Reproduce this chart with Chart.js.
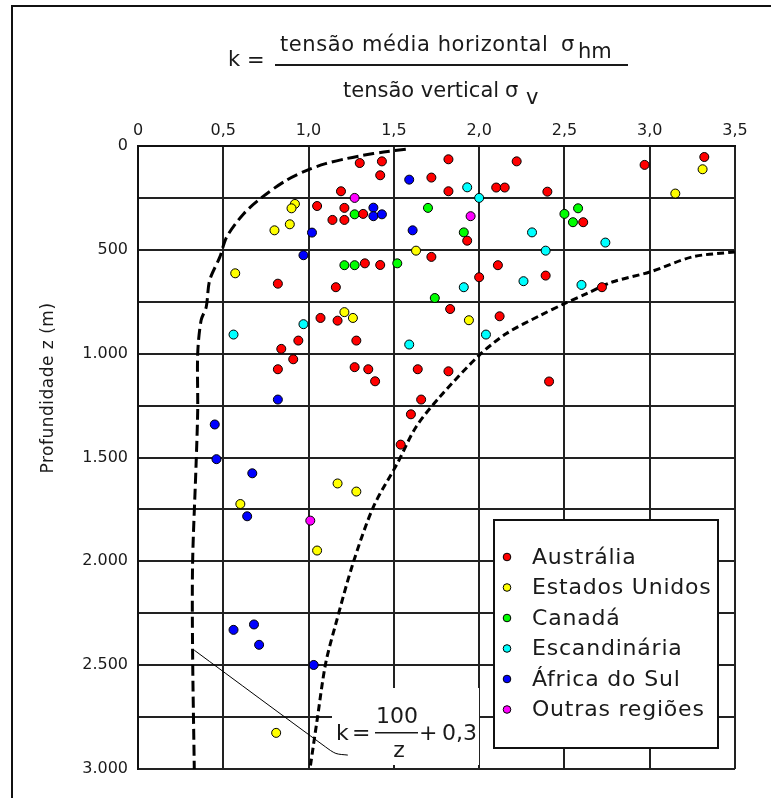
<!DOCTYPE html>
<html lang="pt">
<head>
<meta charset="UTF-8">
<title>k x profundidade</title>
<style>
  body { margin: 0; background: #fff; }
  canvas { display: block; }
</style>
</head>
<body>
<canvas id="chart" width="771" height="798"></canvas>
<script src="https://cdn.jsdelivr.net/npm/chart.js"></script>
<script>
// [k, profundidade z (m)]
var australia = [[1.30,82],[1.43,74],[1.42,141],[1.72,152],[1.82,64],[1.82,218],[1.19,218],[1.05,289],[1.21,298],[1.32,327],
  [1.14,356],[1.21,356],[1.72,534],[1.33,565],[1.42,573],[0.82,663],[1.16,680],[1.83,785],[2.22,74],[2.97,91],[3.32,53],
  [2.10,200],[2.15,200],[2.40,220],[2.61,367],[1.93,456],[2.11,574],[2.00,632],[2.39,624],[2.72,680],[1.07,828],[1.17,841],
  [0.94,937],[0.84,977],[1.28,937],[0.91,1027],[0.82,1075],[1.27,1065],[1.35,1075],[1.39,1133],[1.64,1075],[1.82,1085],
  [1.66,1221],[1.60,1292],[1.54,1438],[2.12,820],[2.41,1134]]
var estadosUnidos = [[0.92,279],[0.90,300],[0.89,377],[0.80,406],[1.63,504],[0.57,613],[1.21,800],[1.26,828],[3.31,112],
  [3.15,229],[1.94,839],[1.17,1625],[1.28,1664],[0.60,1724],[1.05,1948],[0.81,2826]]
var canada = [[1.27,329],[1.70,298],[1.21,574],[1.27,574],[1.52,565],[1.74,732],[2.58,300],[2.50,327],[2.55,367],[1.91,416]]
var escandinavia = [[1.93,199],[2.00,250],[2.31,416],[2.39,504],[2.74,465],[1.91,680],[2.26,651],[2.60,669],[0.56,908],
  [0.97,858],[1.59,956],[2.04,908]]
var africaDoSul = [[1.59,162],[1.38,297],[1.38,338],[1.43,329],[1.02,417],[1.61,406],[0.97,526],[0.82,1221],[0.45,1341],
  [0.46,1508],[0.67,1576],[0.64,1783],[0.56,2330],[0.68,2304],[0.71,2402],[1.03,2499]]
var outrasRegioes = [[1.27,250],[1.95,338],[1.01,1804]]

// envelope curves
var curvaInterna = [[1.57,16],[1.44,29],[1.32,45],[1.22,61],[1.10,85],[0.99,117],[0.87,165],[0.73,245],[0.62,326],[0.52,438],
  [0.48,534],[0.42,647],[0.40,775],[0.37,839],[0.35,1000],[0.35,1272],[0.34,1545],[0.32,2011],[0.32,2428],[0.33,3000]]
var curvaExterna = [[3.50,510],[3.25,534],[3.00,607],[2.78,655],[2.63,711],[2.50,759],[2.36,815],[2.16,903],[2.00,1008],
  [1.77,1208],[1.63,1353],[1.52,1529],[1.38,1738],[1.26,2011],[1.16,2300],[1.10,2492],[1.05,2765],[1.01,2990]]
var linhaNota = [[0.33,2428],[1.10,2894],[1.16,2925],[1.23,2933]]

var xTickLabels = ['0','0,5','1,0','1,5','2,0','2,5','3,0','3,5']
var yTickLabels = ['0','500','1.000','1.500','2.000','2.500','3.000']

function pts(arr){ return arr.map(function(p){ return {x:p[0], y:p[1]} }) }

function serie(label, arr, color){
  return { label: label, data: pts(arr), backgroundColor: color, borderColor: '#000',
    borderWidth: 1, pointRadius: 4.5, pointHoverRadius: 4.5, showLine: false }
}
function curva(arr, dash, w){
  return { label: '', data: pts(arr), showLine: true, borderColor: '#000', borderWidth: w, borderDash: dash,
    pointRadius: 0, tension: 0.3, fill: false, isCurve: true }
}

Chart.defaults.font.family = 'DejaVu Sans'
Chart.defaults.color = '#1a1a1a'

var decor = {
  id: 'decor',
  beforeDraw: function(chart){
    var c = chart.ctx
    c.save()
    c.fillStyle = '#fff'
    c.fillRect(0, 0, chart.width, chart.height)
    c.strokeStyle = '#111'; c.lineWidth = 2
    c.beginPath(); c.moveTo(12, 798); c.lineTo(12, 6); c.lineTo(771, 6); c.stroke()
    c.restore()
  },
  beforeDatasetsDraw: function(chart){
    var c = chart.ctx
    c.save()
    c.fillStyle = '#fff'
    c.fillRect(332, 688, 147, 77)
    c.fillRect(494, 520, 224, 228)
    c.strokeStyle = '#111'; c.lineWidth = 2
    c.strokeRect(494, 520, 224, 228)
    c.restore()
  },
  afterDatasetsDraw: function(chart){
    var c = chart.ctx
    c.save()
    c.fillStyle = '#1a1a1a'
    c.textBaseline = 'alphabetic'
    // title: k = fraction
    c.font = '21px "DejaVu Sans"'
    c.fillText('k', 228, 66)
    c.fillText('=', 247, 67)
    c.fillText('tensão vertical', 343, 97)
    c.fillText('σ', 505, 97)
    c.fillText('v', 526, 104)
    c.fillText('σ', 561, 51)
    c.fillText('hm', 578, 58)
    c.letterSpacing = '0.6px'
    c.fillText('tensão média horizontal', 280, 51)
    c.fillRect(275, 64, 353, 2)
    // y axis title
    c.save()
    c.translate(53, 388)
    c.rotate(-Math.PI/2)
    c.font = '17px "DejaVu Sans"'
    c.letterSpacing = '0.5px'
    c.textAlign = 'center'
    c.fillText('Profundidade z (m)', 0, 0)
    c.restore()
    c.letterSpacing = '0px'
    // formula annotation
    c.font = '22px "DejaVu Sans"'
    c.fillText('k', 336, 740)
    c.fillText('=', 352, 740)
    c.textAlign = 'center'
    c.fillText('100', 397, 723)
    c.fillText('z', 399, 757)
    c.fillRect(375, 732, 43, 1.5)
    c.textAlign = 'left'
    c.fillText('+', 419, 740)
    c.fillText('0,3', 442, 740)
    // legend
    var ds = chart.data.datasets.filter(function(d){ return !d.isCurve })
    c.font = '22px "DejaVu Sans"'
    c.letterSpacing = '0.8px'
    c.textBaseline = 'middle'
    ds.forEach(function(d, i){
      var y = 557 + i * 30.5
      c.beginPath()
      c.arc(507, y, 3.8, 0, Math.PI*2)
      c.fillStyle = d.backgroundColor; c.fill()
      c.strokeStyle = '#000'; c.lineWidth = 1; c.stroke()
      c.fillStyle = '#1a1a1a'
      c.fillText(d.label, 532, y + 1)
    })
    c.restore()
  }
}

var chart = new Chart(document.getElementById('chart'), {
  type: 'scatter',
  data: {
    datasets: [
      serie('Austrália', australia, '#ff0000'),
      serie('Estados Unidos', estadosUnidos, '#ffff00'),
      serie('Canadá', canada, '#00ff00'),
      serie('Escandinária', escandinavia, '#00ffff'),
      serie('África do Sul', africaDoSul, '#0000ff'),
      serie('Outras regiões', outrasRegioes, '#ff00ff'),
      curva(curvaInterna, [11, 5], 3),
      curva(curvaExterna, [7, 4], 3),
      curva(linhaNota, [], 1)
    ]
  },
  options: {
    responsive: false,
    animation: false,
    layout: { padding: { left: 0, top: 0, right: 36, bottom: 29 } },
    plugins: { legend: { display: false }, tooltip: { enabled: false } },
    scales: {
      x: {
        type: 'linear', position: 'top', min: 0, max: 3.5,
        afterFit: function(s){ s.height = 146 },
        ticks: { stepSize: 0.5, padding: 6, font: { size: 16 }, maxRotation: 0,
          callback: function(v){ return xTickLabels[Math.round(v * 2)] } },
        grid: { color: '#222', lineWidth: 2, drawTicks: false },
        border: { color: '#111', width: 2 }
      },
      y: {
        type: 'linear', position: 'left', min: 0, max: 3000, reverse: true,
        afterFit: function(s){ s.width = 138 },
        ticks: { stepSize: 250, padding: 10, font: { size: 16 },
          callback: function(v){ return v % 500 === 0 ? yTickLabels[v / 500] : '' } },
        grid: { color: '#222', lineWidth: 2, drawTicks: false },
        border: { color: '#111', width: 2 }
      }
    }
  },
  plugins: [decor]
})
</script>
</body>
</html>
